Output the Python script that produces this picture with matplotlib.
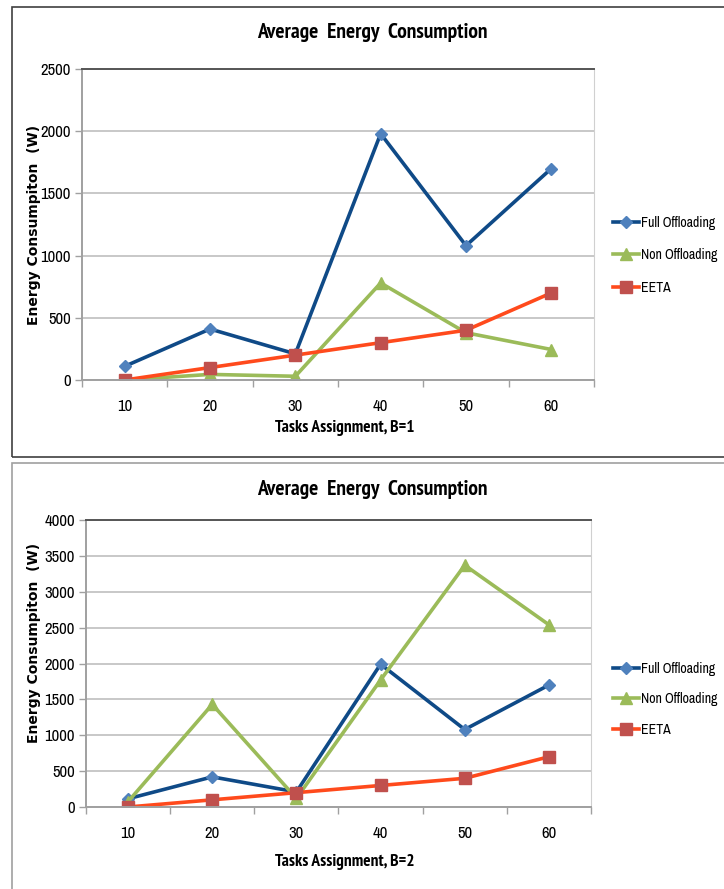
import matplotlib
matplotlib.use("Agg")
import matplotlib.pyplot as plt
from matplotlib.patches import Rectangle
from matplotlib import font_manager as fm

def _w(v):
    if isinstance(v, str):
        return fm.weight_dict.get(v, 400)
    return v

fams = {}
for f in fm.fontManager.ttflist:
    fams.setdefault(f.name, set()).add(_w(f.weight))

def pick(cands, default, need_bold=False):
    for c in cands:
        if c in fams and (not need_bold or max(fams[c]) >= 700):
            return c
    return default

NARROW_C = ['Arial Narrow', 'Liberation Sans Narrow', 'Archivo Narrow', 'PT Sans Narrow',
            'Roboto Condensed', 'Fira Sans Condensed', 'IBM Plex Sans Condensed',
            'Barlow Semi Condensed', 'Encode Sans Condensed', 'Open Sans Condensed']
NARROW_B = pick(NARROW_C, 'Liberation Sans', need_bold=True)
NARROW = pick(NARROW_C, 'Liberation Sans')
YLAB = 'DejaVu Sans'

categories = [10, 20, 30, 40, 50, 60]
series_names = ["Full Offloading", "Non Offloading", "EETA"]

full_b1 = [110, 410, 210, 1980, 1080, 1700]
non_b1 = [0, 45, 30, 780, 380, 245]
eeta_b1 = [0, 100, 200, 300, 400, 700]

full_b2 = [115, 420, 210, 1990, 1080, 1700]
non_b2 = [75, 1430, 120, 1770, 3370, 2540]
eeta_b2 = [0, 100, 200, 300, 400, 700]

W, H = 724, 889
fig = plt.figure(figsize=(W / 100, H / 100), dpi=100)

def fx(px):
    return px / W

def fy(py):
    return 1 - py / H

# panel borders
fig.patches.append(Rectangle((fx(12), fy(457)), fx(800), (457 - 7.5) / H,
                             transform=fig.transFigure, fill=False,
                             edgecolor='#404040', linewidth=1.2))
fig.patches.append(Rectangle((fx(12), fy(900)), fx(800), (900 - 463) / H,
                             transform=fig.transFigure, fill=False,
                             edgecolor='#a0a0a0', linewidth=1.2))

styles = [
    dict(color='#0f4a87', marker='D', mfc='#4f81bd', mec='#4f81bd', ms=6.5, lw=2.6),
    dict(color='#9bbb59', marker='^', mfc='#9bbb59', mec='#9bbb59', ms=8, lw=2.6),
    dict(color='#ff4a1c', marker='s', mfc='#c0504d', mec='#c0504d', ms=8, lw=2.6),
]

def draw(rect_px, data, ymax, xlabel, title_y, xlabel_y, legend_y, labsp, ylab_x, ylab_y):
    l, t, r, b = rect_px
    ax = fig.add_axes([fx(l), fy(b), fx(r - l), (b - t) / H])
    x = list(range(len(categories)))
    for vals, st, nm in zip(data, styles, series_names):
        ax.plot(x, vals, label=nm, **st)
    ax.set_xlim(-0.5, len(categories) - 0.5)
    ax.set_ylim(0, ymax)
    ax.set_yticks(range(0, ymax + 1, 500))
    ax.set_xticks(x)
    ax.set_xticklabels([str(c) for c in categories])
    ax.set_xticks([i - 0.5 for i in range(len(categories) + 1)], minor=True)
    ax.tick_params(axis='x', which='major', length=0, pad=14, labelsize=12)
    ax.tick_params(axis='x', which='minor', length=5, color='#a0a0a0', width=1)
    ax.tick_params(axis='y', which='major', length=5, color='#a0a0a0', width=1,
                   labelsize=12, pad=3)
    for lab in ax.get_xticklabels() + ax.get_yticklabels():
        lab.set_fontfamily(NARROW)
    ax.grid(axis='y', color='#c8c8c8', linewidth=1.4)
    ax.set_axisbelow(True)
    ax.spines['top'].set_color('#555555')
    ax.spines['top'].set_linewidth(1.4)
    ax.spines['right'].set_color('#d0d0d0')
    ax.spines['left'].set_color('#a0a0a0')
    ax.spines['bottom'].set_color('#a0a0a0')
    ax.spines['left'].set_linewidth(1.4)
    ax.spines['bottom'].set_linewidth(1.4)
    fig.text(fx(372), fy(title_y), "Average  Energy  Consumption", ha='center', va='center',
             fontsize=15.5, fontweight='bold', family=NARROW_B)
    fig.text(fx(345), fy(xlabel_y), xlabel, ha='center', va='center',
             fontsize=12.5, fontweight='bold', family=NARROW_B)
    fig.text(fx(ylab_x), fy(ylab_y), "Energy Consumpiton  (W)", ha='center', va='center',
             rotation=90, fontsize=10, fontweight='bold', family=YLAB)
    ax.legend(loc='upper left', bbox_to_anchor=(fx(600), fy(legend_y)),
              bbox_transform=fig.transFigure, frameon=False,
              handlelength=1.9, handletextpad=0.15, labelspacing=labsp,
              prop={'family': NARROW, 'size': 10})
    return ax

draw((82, 69, 594, 380), [full_b1, non_b1, eeta_b1], 2500, "Tasks Assignment, B=1",
     33, 428, 203, 1.34, 34, 225)
draw((86, 520, 591, 807), [full_b2, non_b2, eeta_b2], 4000, "Tasks Assignment, B=2",
     489, 862, 649, 1.19, 34, 643)

fig.savefig("out.png", dpi=100)
